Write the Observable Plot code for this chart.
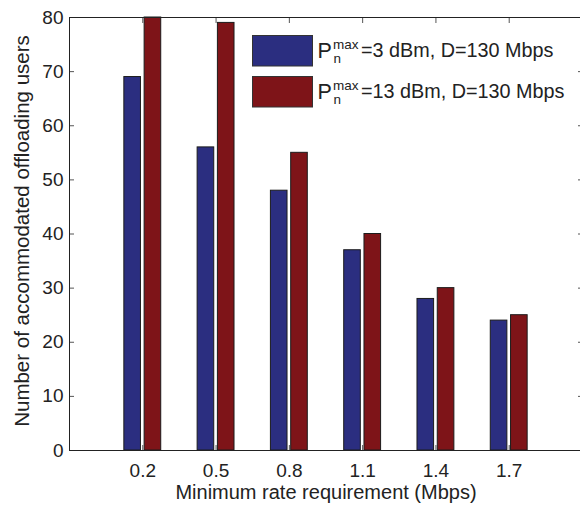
<!DOCTYPE html>
<html><head><meta charset="utf-8">
<script src="https://cdn.jsdelivr.net/npm/d3@7"></script>
<script src="https://cdn.jsdelivr.net/npm/@observablehq/plot@0.6"></script>
<style>
html,body{margin:0;padding:0;background:#fff;overflow:hidden;}
#chart{width:580px;height:506px;overflow:hidden;}
#chart svg{max-width:none !important;}
</style></head><body><div id="chart"></div>
<script>
const rates = [0.2, 0.5, 0.8, 1.1, 1.4, 1.7];
const rateLabels = ["0.2", "0.5", "0.8", "1.1", "1.4", "1.7"];
const users3dBm = [69, 56, 48, 37, 28, 24];
const users13dBm = [80, 79, 55, 40, 30, 25];
const seriesKeys = ["3 dBm", "13 dBm"];
const seriesColors = ["#2B2E80", "#7E1418"];
const legendSymbol = "P";
const legendSup = "max";
const legendSub = "n";
const legendMain = ["=3 dBm, D=130 Mbps", "=13 dBm, D=130 Mbps"];
const yTicks = [0, 10, 20, 30, 40, 50, 60, 70, 80];
const xLabel = "Minimum rate requirement (Mbps)";
const yLabel = "Number of accommodated offloading users";

const barWidth = 0.068, barOffset = [-0.0415, 0.0415];
const data = [];
rates.forEach((r, i) => {
  data.push({rate: r, series: seriesKeys[0], k: 0, value: users3dBm[i]});
  data.push({rate: r, series: seriesKeys[1], k: 1, value: users13dBm[i]});
});

const font = '"Liberation Sans", Arial, Helvetica, sans-serif';
const noText = () => "";
const plot = Plot.plot({
  width: 584, height: 506,
  marginLeft: 69, marginRight: 2, marginTop: 17, marginBottom: 56,
  style: {fontFamily: font, fontSize: "19px", color: "#222", background: "white"},
  x: {domain: [-0.1, 2.0]},
  y: {domain: [0, 80]},
  color: {domain: seriesKeys, range: seriesColors},
  marks: [
    Plot.rectY(data, {
      x1: d => d.rate + barOffset[d.k] - barWidth / 2,
      x2: d => d.rate + barOffset[d.k] + barWidth / 2,
      y1: 0, y2: "value", fill: "series", stroke: "#1c1c1c", strokeWidth: 1
    }),
    Plot.axisX({anchor: "bottom", ticks: rates, tickSize: -5, tickFormat: noText, label: null, stroke: "#555"}),
    Plot.axisX({anchor: "top", ticks: rates, tickSize: -5, tickFormat: noText, label: null, stroke: "#555"}),
    Plot.axisY({anchor: "left", ticks: yTicks, tickSize: -5, tickFormat: noText, label: null, stroke: "#555"}),
    Plot.axisY({anchor: "right", ticks: yTicks, tickSize: -5, tickFormat: noText, label: null, stroke: "#555"}),
    Plot.axisX({anchor: "bottom", ticks: rates, tickSize: 0, tickPadding: 13, tickFormat: d => rateLabels[rates.indexOf(d)], label: null, fill: "#222"}),
    Plot.axisY({anchor: "left", ticks: yTicks, tickSize: 0, tickPadding: 6, tickFormat: d => String(d), label: null, fill: "#222"}),
    Plot.frame({stroke: "#222"}),
    Plot.text([xLabel], {text: d => d, frameAnchor: "bottom", dy: 48, textAnchor: "middle", lineAnchor: "bottom", fontSize: 20, fill: "#222"}),
    Plot.text([yLabel], {text: d => d, frameAnchor: "left", dx: -47, dy: -3, rotate: -90, textAnchor: "middle", lineAnchor: "middle", fontSize: 20.5, fill: "#222"})
  ]
});
plot.style.maxWidth = "none";
document.getElementById("chart").appendChild(plot);

// Legend (inside the axes, top right)
const svg = d3.select(plot);
const lg = svg.append("g").attr("font-family", font).attr("fill", "#222").attr("text-anchor", "start");
seriesKeys.forEach((s, i) => {
  const oy = i * 41;
  lg.append("rect").attr("x", 252.5).attr("y", 35.5 + oy).attr("width", 60).attr("height", 30.5)
    .attr("fill", seriesColors[i]).attr("stroke", "#333").attr("stroke-width", 1);
  lg.append("text").attr("x", 317.5).attr("y", 58 + oy).attr("font-size", 21.5).text(legendSymbol);
  lg.append("text").attr("x", 333).attr("y", 48.5 + oy).attr("font-size", 13.5).text(legendSup);
  lg.append("text").attr("x", 333.5).attr("y", 63 + oy).attr("font-size", 13.5).text(legendSub);
  lg.append("text").attr("x", 361).attr("y", 57 + oy).attr("font-size", 19.8).text(legendMain[i]);
});
</script>
</body></html>
